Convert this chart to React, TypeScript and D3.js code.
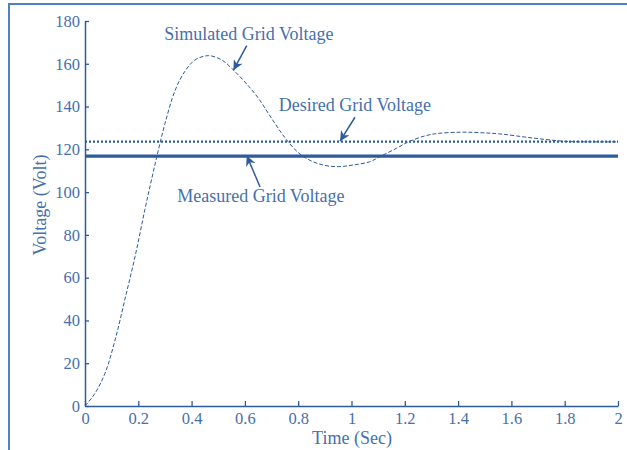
import React, { useEffect, useRef } from 'react';
import * as d3 from 'd3';

// simulated grid voltage
const timeSec = [0, 0.0375, 0.075, 0.113, 0.15, 0.188, 0.225, 0.25, 0.275, 0.3, 0.338, 0.375, 0.413, 0.463, 0.513, 0.555, 0.6, 0.65, 0.7, 0.75, 0.8, 0.85, 0.9, 0.95, 1.007, 1.069, 1.107, 1.169, 1.219, 1.3, 1.407, 1.48, 1.557, 1.68, 1.807, 1.9, 2.0];
const simulated = [0, 5.9, 15.3, 30.9, 50, 70, 92, 106, 119.5, 132, 147.5, 156.5, 161.8, 163.8, 161.8, 157.3, 151.5, 144, 134.5, 125.5, 118.5, 114.5, 112.5, 111.9, 112.7, 114.2, 116.6, 120.5, 123.8, 127, 128, 127.8, 127.2, 125.3, 123.7, 123.5, 123.5];

const desiredVoltage = 123.6;
const measuredVoltage = 116.8;

const xTicks = [0, 0.2, 0.4, 0.6, 0.8, 1, 1.2, 1.4, 1.6, 1.8, 2];
const yTicks = [0, 20, 40, 60, 80, 100, 120, 140, 160, 180];

// annotation: label position and arrow tail/tip in data units
const notes = [
  { label: 'Simulated Grid Voltage', text: [0.615, 173], from: [0.607, 168.5], to: [0.557, 157] },
  { label: 'Desired Grid Voltage', text: [1.013, 140], from: [1.013, 135], to: [0.957, 123.8] },
  { label: 'Measured Grid Voltage', text: [0.66, 97.5], from: [0.657, 102.4], to: [0.607, 117] },
];

const W = 627, H = 450;
const left = 85, right = 618, top = 21, bottom = 406;
const lineCol = '#2d5b9c';
const textCol = '#4670ad';
const font = '"Liberation Serif", "Times New Roman", serif';

export default function App() {
  const ref = useRef<SVGSVGElement>(null);

  useEffect(() => {
    const svg = d3.select(ref.current);
    svg.selectAll('*').remove();

    const x = d3.scaleLinear().domain([0, 2]).range([left, right]);
    const y = d3.scaleLinear().domain([0, 180]).range([bottom, top]);

    svg.append('defs').append('marker')
      .attr('id', 'head')
      .attr('viewBox', '0 0 10 10')
      .attr('refX', 10).attr('refY', 5)
      .attr('markerWidth', 12).attr('markerHeight', 10)
      .attr('markerUnits', 'userSpaceOnUse')
      .attr('orient', 'auto')
      .append('path').attr('d', 'M0,0 L10,5 L0,10 L3,5 Z').attr('fill', lineCol);

    // outer frame (top and left only visible)
    svg.append('path')
      .attr('d', `M9,${H} L9,4 L${W},4`)
      .attr('fill', 'none').attr('stroke', '#4f80c8').attr('stroke-width', 2);

    const g = svg.append('g');

    // measured (solid)
    g.append('line')
      .attr('x1', x(0)).attr('x2', x(2))
      .attr('y1', y(measuredVoltage)).attr('y2', y(measuredVoltage))
      .attr('stroke', lineCol).attr('stroke-width', 3.2);

    // desired (dotted)
    g.append('line')
      .attr('x1', x(0)).attr('x2', x(2))
      .attr('y1', y(desiredVoltage)).attr('y2', y(desiredVoltage))
      .attr('stroke', lineCol).attr('stroke-width', 2.2)
      .attr('stroke-dasharray', '2,2');

    // simulated (dashed)
    const line = d3.line<number>()
      .x((_, i) => x(timeSec[i]))
      .y(d => y(d))
      .curve(d3.curveCatmullRom.alpha(0.5));
    g.append('path')
      .attr('d', line(simulated))
      .attr('fill', 'none')
      .attr('stroke', lineCol).attr('stroke-width', 1)
      .attr('stroke-dasharray', '4,2');

    // axes
    const xAxis = d3.axisBottom(x).tickValues(xTicks).tickSize(-5).tickSizeOuter(0).tickPadding(6)
      .tickFormat(d => String(d));
    const yAxis = d3.axisLeft(y).tickValues(yTicks).tickSize(-4).tickSizeOuter(0).tickPadding(5);

    const gx = svg.append('g').attr('transform', `translate(0,${bottom})`).call(xAxis);
    const gy = svg.append('g').attr('transform', `translate(${left},0)`).call(yAxis);
    [gx, gy].forEach(a => {
      a.select('.domain').attr('stroke', lineCol).attr('stroke-width', 1.5);
      a.selectAll('.tick line').attr('stroke', lineCol).attr('stroke-width', 1.3);
      a.selectAll('.tick text')
        .attr('fill', textCol).style('font-family', font).style('font-size', '16.5px');
    });

    // axis titles
    svg.append('text')
      .attr('x', 352).attr('y', 444)
      .attr('text-anchor', 'middle')
      .attr('fill', textCol).style('font-family', font).style('font-size', '18px')
      .text('Time (Sec)');
    svg.append('text')
      .attr('transform', `translate(46,205) rotate(-90)`)
      .attr('text-anchor', 'middle')
      .attr('fill', textCol).style('font-family', font).style('font-size', '18px')
      .text('Voltage (Volt)');

    // annotations
    notes.forEach(n => {
      svg.append('text')
        .attr('x', x(n.text[0])).attr('y', y(n.text[1]))
        .attr('text-anchor', 'middle').attr('dominant-baseline', 'middle')
        .attr('fill', textCol).style('font-family', font).style('font-size', '18px')
        .text(n.label);
      svg.append('line')
        .attr('x1', x(n.from[0])).attr('y1', y(n.from[1]))
        .attr('x2', x(n.to[0])).attr('y2', y(n.to[1]))
        .attr('stroke', lineCol).attr('stroke-width', 1.5)
        .attr('marker-end', 'url(#head)');
    });
  }, []);

  return (
    <svg ref={ref} width={W} height={H}
      style={{ position: 'absolute', left: 0, top: 0, background: '#fff' }} />
  );
}
